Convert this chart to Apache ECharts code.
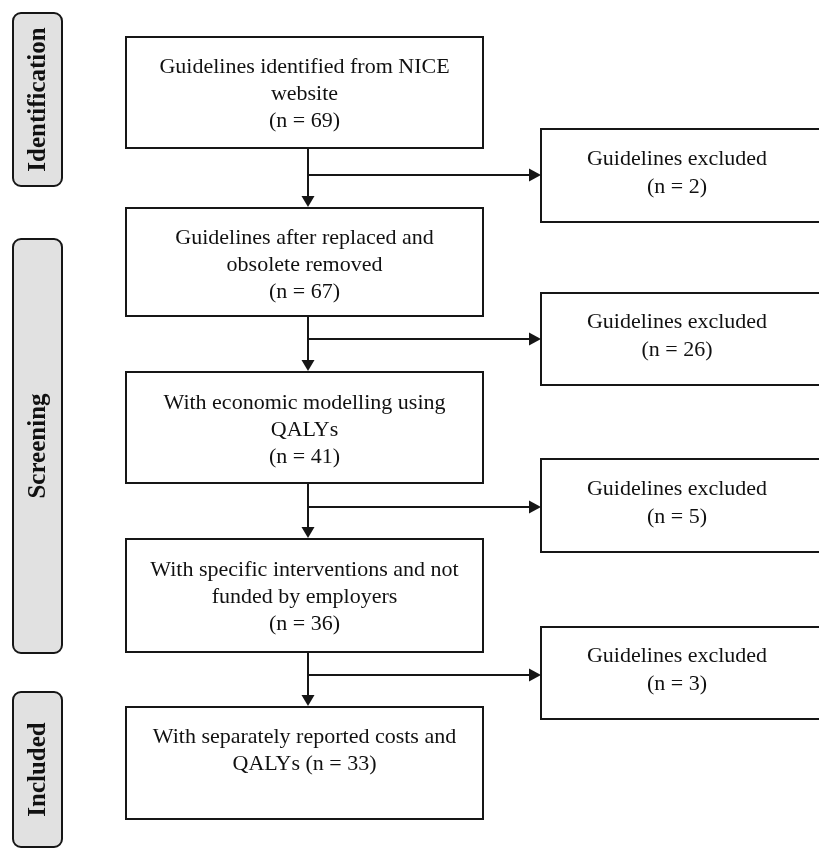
<!DOCTYPE html>
<html>
<head>
<meta charset="utf-8">
<script src="https://cdn.jsdelivr.net/npm/echarts@6/dist/echarts.min.js"></script>
<style>html,body{margin:0;padding:0;background:#fff;}#c{width:819px;height:848px;}</style>
</head>
<body>
<div id="c"></div>
<script>
// ---- data ----
const stageLabels = ["Identification", "Screening", "Included"];
const mainTexts = [
  "Guidelines identified from NICE\nwebsite",
  "Guidelines after replaced and\nobsolete removed",
  "With economic modelling using\nQALYs",
  "With specific interventions and not\nfunded by employers",
  "With separately reported costs and\nQALYs"
];
const mainCounts = [69, 67, 41, 36, 33];
const excludedText = "Guidelines excluded";
const excludedCounts = [2, 26, 5, 3];

// ---- layout (positions only) ----
const MX = 126, MW = 357, LINE_X = 308;
const mainBoxes = [[37,148,94.5],[208,316,265],[372,483,430],[539,652,597],[707,819,751]];
const EX = 541, EW = 282;
const exclBoxes = [[129,222,173],[293,385,336],[459,552,503],[627,719,670.5]];
const branchY = [175, 339, 507, 675];
const stageBoxes = [[13,186],[239,653],[692,847]];
const SX = 13, SW = 49;
const INK = '#161616';
const FONT = '22px "Liberation Serif", "Times New Roman", serif';

const els = [];
// stage labels
stageLabels.forEach((t, i) => {
  const [y0, y1] = stageBoxes[i];
  els.push({type:'rect', shape:{x:SX, y:y0, width:SW, height:y1-y0, r:8},
    style:{fill:'#e1e1e1', stroke:INK, lineWidth:2}});
  els.push({type:'text', x:SX+SW/2+1, y:(y0+y1)/2, rotation:Math.PI/2,
    style:{text:t, font:'bold 25px "Liberation Serif", "Times New Roman", serif', fill:'#111',
      align:'center', verticalAlign:'middle'}});
});
// main boxes
mainTexts.forEach((t, i) => {
  const [y0, y1, ty] = mainBoxes[i];
  els.push({type:'rect', shape:{x:MX, y:y0, width:MW, height:y1-y0},
    style:{fill:'#fff', stroke:INK, lineWidth:2}});
  const n = mainCounts[i];
  const txt = (i === mainTexts.length-1) ? t + ' (n = ' + n + ')' : t + '\n(n = ' + n + ')';
  els.push({type:'text', x:MX+MW/2, y:ty,
    style:{text:txt, font:FONT, fill:'#111', align:'center', verticalAlign:'middle', lineHeight:27}});
});
// excluded boxes
excludedCounts.forEach((n, i) => {
  const [y0, y1, ty] = exclBoxes[i];
  els.push({type:'rect', shape:{x:EX, y:y0, width:EW, height:y1-y0},
    style:{fill:'#fff', stroke:INK, lineWidth:2}});
  els.push({type:'text', x:EX+136, y:ty,
    style:{text:excludedText + '\n(n = ' + n + ')', font:FONT, fill:'#111', align:'center', verticalAlign:'middle', lineHeight:28}});
});
// vertical arrows
for (let i = 0; i < mainBoxes.length-1; i++) {
  const yA = mainBoxes[i][1], yB = mainBoxes[i+1][0];
  els.push({type:'line', shape:{x1:LINE_X, y1:yA, x2:LINE_X, y2:yB-11}, style:{stroke:INK, lineWidth:2}});
  els.push({type:'polygon', shape:{points:[[LINE_X-6.5,yB-12],[LINE_X+6.5,yB-12],[LINE_X,yB-1]]}, style:{fill:INK}});
}
// horizontal arrows
branchY.forEach(y => {
  els.push({type:'line', shape:{x1:LINE_X, y1:y, x2:EX-11, y2:y}, style:{stroke:INK, lineWidth:2}});
  els.push({type:'polygon', shape:{points:[[EX-12,y-6.5],[EX-12,y+6.5],[EX,y]]}, style:{fill:INK}});
});

const chart = echarts.init(document.getElementById('c'), null, {renderer:'canvas'});
chart.setOption({backgroundColor:'#fff', animation:false, graphic:{elements:els}});
</script>
</body>
</html>
